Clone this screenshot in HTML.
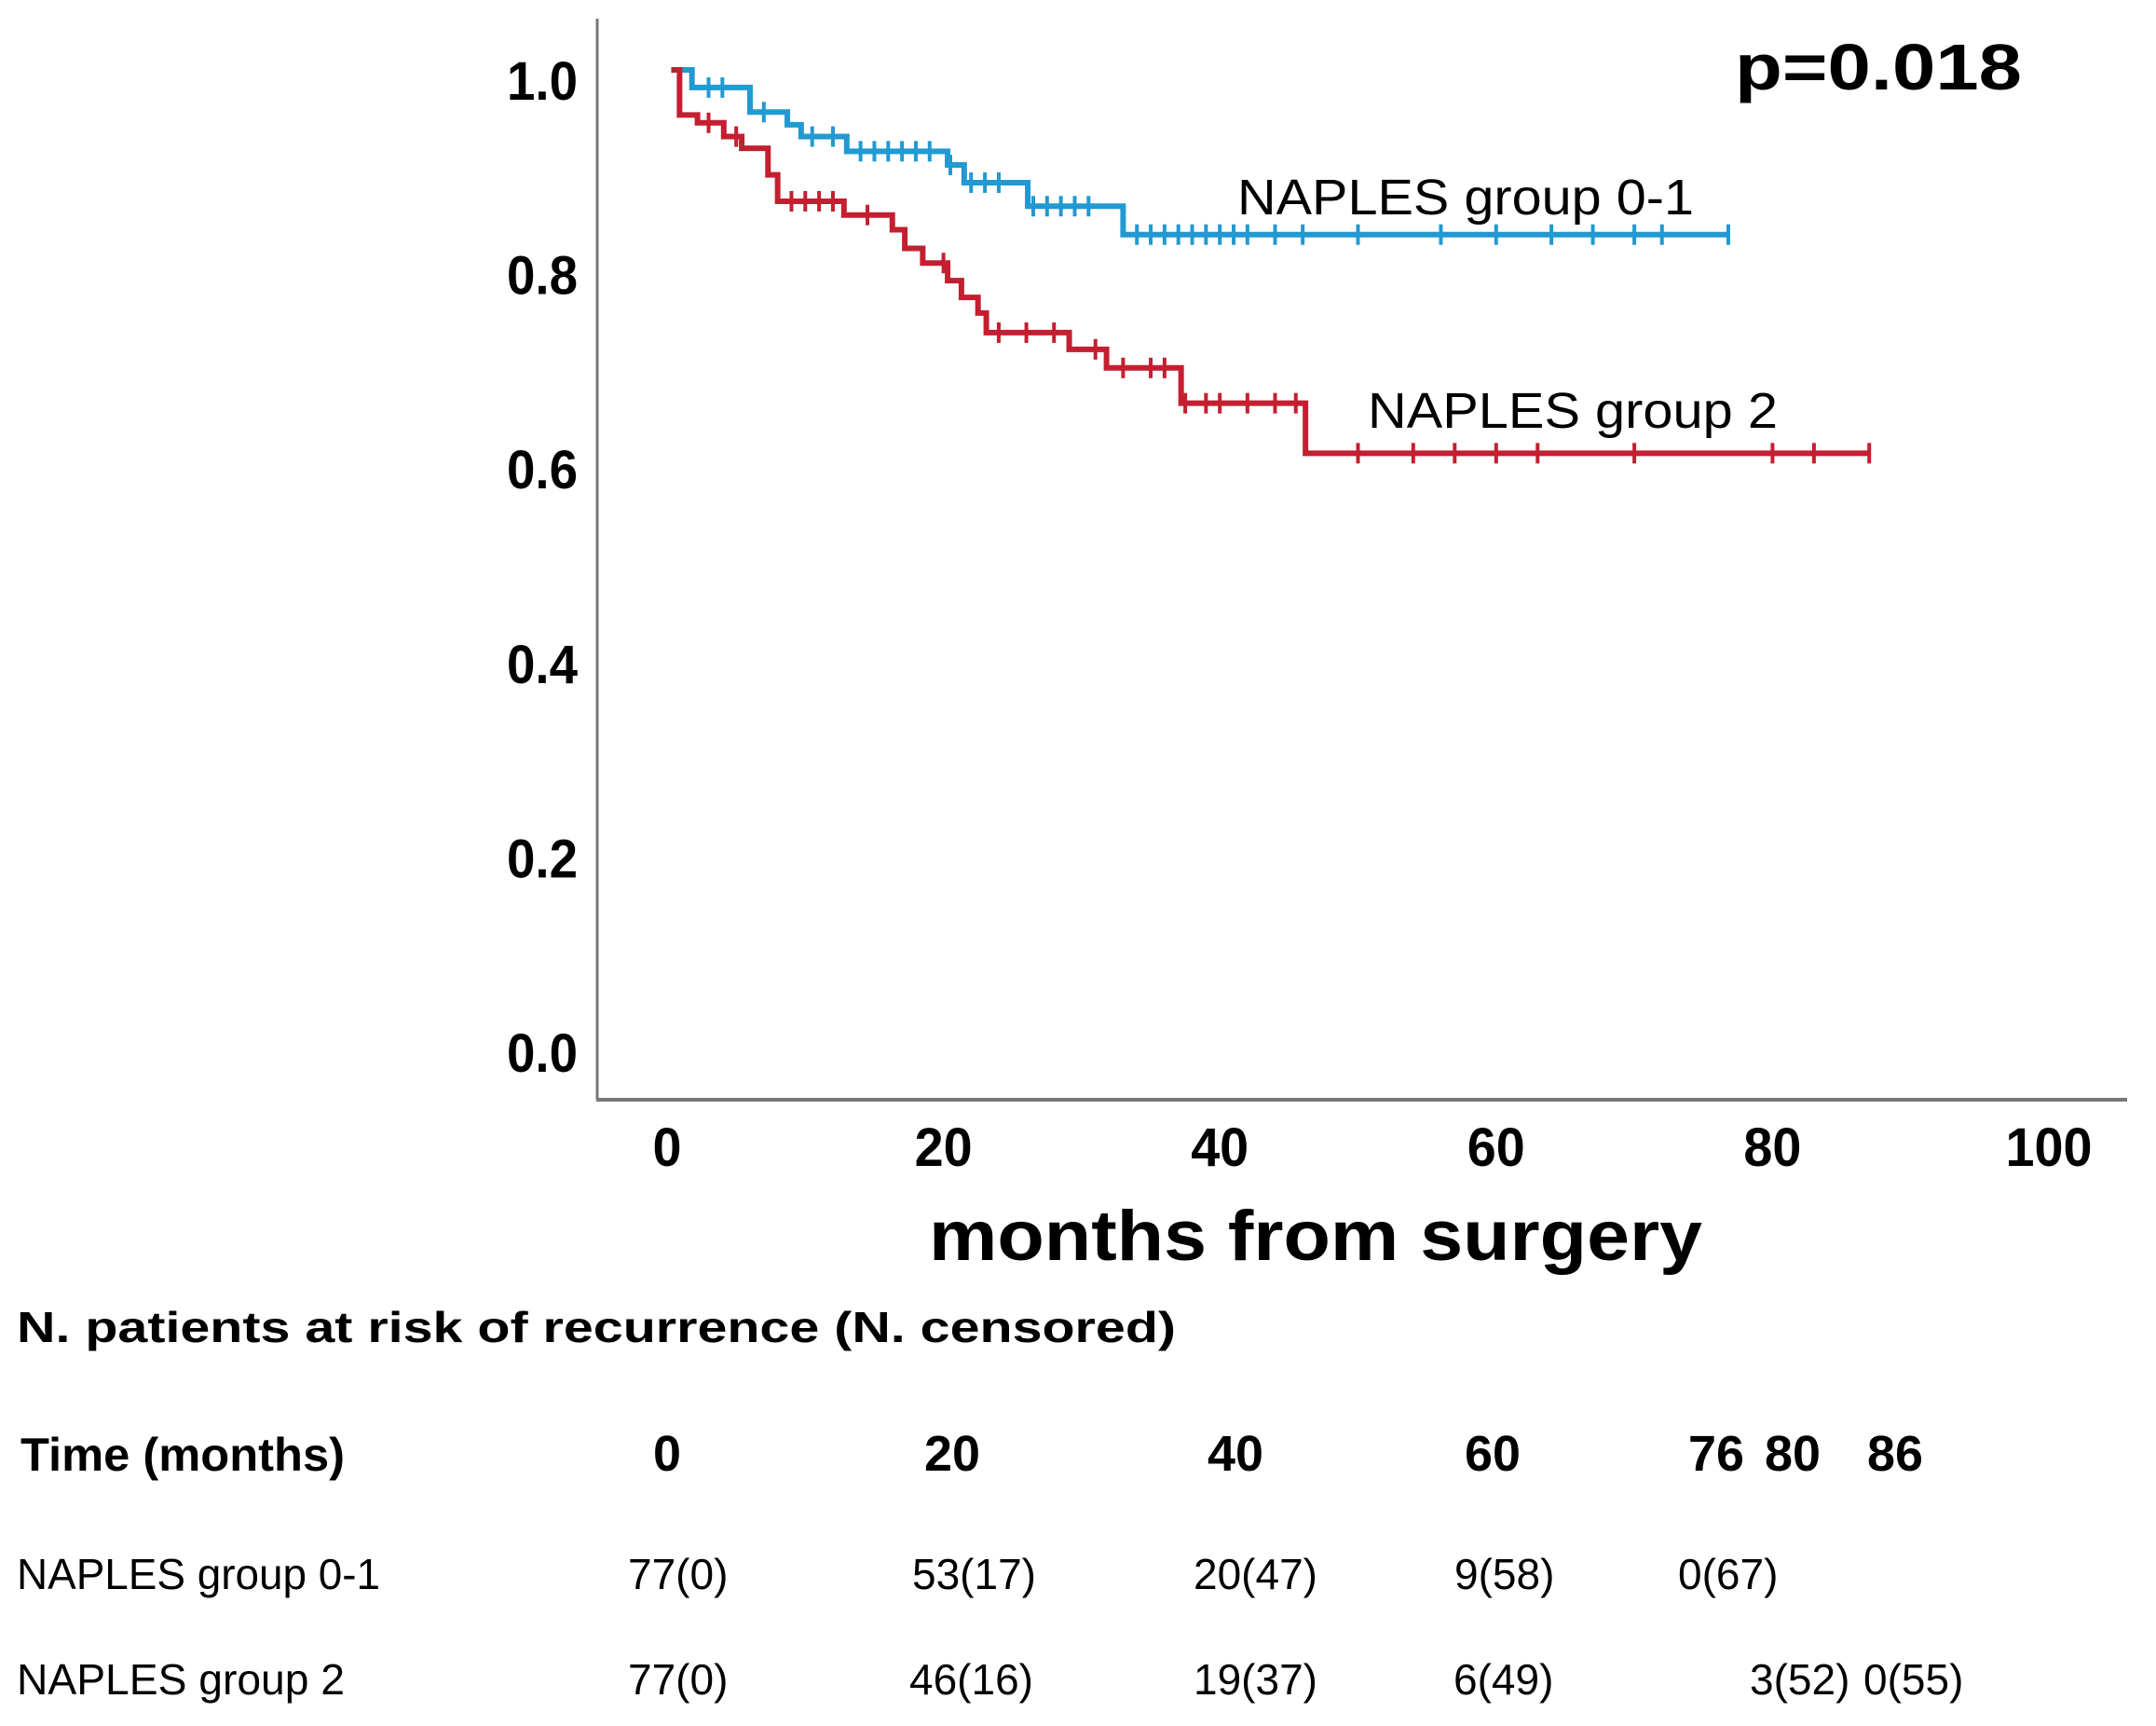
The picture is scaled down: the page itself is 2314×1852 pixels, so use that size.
<!DOCTYPE html>
<html><head><meta charset="utf-8"><style>
html,body{margin:0;padding:0;background:#fff;}
svg{display:block;font-family:"Liberation Sans",Arial,sans-serif;}
</style></head><body>
<svg id="chart" width="2314" height="1852" viewBox="0 0 2314 1852" xmlns="http://www.w3.org/2000/svg">
<rect width="2314" height="1852" fill="#fff"/>
<line x1="641" y1="20" x2="641" y2="1180" stroke="#777" stroke-width="3"/>
<line x1="640" y1="1180" x2="2283" y2="1180" stroke="#777" stroke-width="4"/>
<g id="yticks"></g>
<g id="xticks"></g>
<g id="series"></g>
<text x="1412" y="1352" text-anchor="middle" font-size="76" font-weight="bold" textLength="830" lengthAdjust="spacingAndGlyphs">months from surgery</text>
<text x="1862" y="96" font-size="70" font-weight="bold" textLength="308" lengthAdjust="spacingAndGlyphs">p=0.018</text>
<text x="1328" y="230" font-size="54" textLength="490" lengthAdjust="spacingAndGlyphs">NAPLES group 0-1</text>
<text x="1468" y="459" font-size="54" textLength="440" lengthAdjust="spacingAndGlyphs">NAPLES group 2</text>
<g>
<text x="18" y="1440" font-size="46" font-weight="bold" textLength="1244" lengthAdjust="spacingAndGlyphs">N. patients at risk of recurrence (N. censored)</text>
<text x="22" y="1578" font-size="50" font-weight="bold" textLength="348" lengthAdjust="spacingAndGlyphs">Time (months)</text>
<g id="table" font-size="46"></g>
</g>
</svg>
<script>
const yTicks=[0,0.2,0.4,0.6,0.8,1.0];
const xTicks=[0,20,40,60,80,100];
const blueTimes=[0.3,1.8,6.0,8.7,9.7,13.0,20.3,21.5,26.1,33.0,76.8];
const blueSurv=[1.0,0.982,0.957,0.944,0.932,0.917,0.903,0.885,0.861,0.832,0.832];
const blueCens=[3,4,7,10.5,12,14,15,16,17,18,19,20.5,22,23,24,26.5,27.5,28.5,29.5,30.5,34,35,36,37,38,39,40,41,42,44,46,50,56,60,64,67,70,72,76.8];
const redTimes=[0.3,0.9,2.2,4.1,5.4,7.3,8.0,12.8,16.3,17.2,18.5,20.3,21.3,22.5,23.1,29.1,31.8,37.2,46.2,87];
const redSurv=[1.0,0.954,0.946,0.932,0.920,0.893,0.866,0.852,0.837,0.818,0.803,0.785,0.768,0.752,0.732,0.715,0.696,0.660,0.609,0.609];
const redCens=[3,5,9,10,11,12,14.5,20,24,26,28,31,33,35,36,37.5,39,40,42,44,45.5,50,54,57,60,63,70,80,83,87];
const tableTimes=["0","20","40","60","76","80","86"];
const row1Label="NAPLES  group 0-1";
const row1Values=["77(0)","53(17)","20(47)","9(58)","0(67)"];
const row2Label="NAPLES  group 2";
const row2Values=["77(0)","46(16)","19(37)","6(49)","3(52)","0(55)"];

const NS="http://www.w3.org/2000/svg";
const X=t=>716+t*14.83;
const Y=v=>1127-1052*v;
const YL=v=>1129-1043*v;
function mk(tag,attrs,parent){const e=document.createElementNS(NS,tag);for(const k in attrs)e.setAttribute(k,attrs[k]);parent.appendChild(e);return e;}
const yg=document.getElementById('yticks');
yTicks.forEach(v=>{const t=mk('text',{x:620,y:YL(v)+21,'text-anchor':'end','font-size':58,'font-weight':'bold',textLength:76,lengthAdjust:'spacingAndGlyphs'},yg);


t.textContent=v.toFixed(1);});
const xg=document.getElementById('xticks');
xTicks.forEach(v=>{const s=String(v);const t=mk('text',{x:X(v),y:1251,'text-anchor':'middle','font-size':58,'font-weight':'bold',textLength:s.length*31,lengthAdjust:'spacingAndGlyphs'},xg);


t.textContent=s;});
function stepVal(times,surv,t){let v=surv[0];for(let i=0;i<times.length;i++){if(times[i]<=t)v=surv[i];}return v;}
function drawSeries(times,surv,cens,color,name){
 const g=document.getElementById('series');
 let d='M'+X(times[0])+','+Y(surv[0]);
 for(let i=1;i<times.length;i++){d+=' H'+X(times[i])+' V'+Y(surv[i]);}
 const p=mk('path',{d:d,fill:'none',stroke:color,'stroke-width':6},g);
 
 
 cens.forEach(t=>{const v=stepVal(times,surv,t);
  const l=mk('line',{x1:X(t),x2:X(t),y1:Y(v)-11,y2:Y(v)+11,stroke:color,'stroke-width':4},g);
  
  });
}
drawSeries(blueTimes,blueSurv,blueCens,'#2299d0','group-0-1');
drawSeries(redTimes,redSurv,redCens,'#c41f30','group-2');
const tg=document.getElementById('table');
const timeX=[716,1022,1326,1602,1842,1924,2034];
tableTimes.forEach((s,i)=>{const t=mk('text',{x:timeX[i],y:1578,'text-anchor':'middle','font-size':54,'font-weight':'bold',textLength:s.length*30,lengthAdjust:'spacingAndGlyphs'},tg);


t.textContent=s;});
function row(label,vals,xs,y,lw,rn){
 const l=mk('text',{x:18,y:y,textLength:lw,lengthAdjust:'spacingAndGlyphs'},tg);
 
 
 l.textContent=label;
 vals.forEach((s,i)=>{const t=mk('text',{x:xs[i],y:y},tg);
  
  
  t.textContent=s;});
}
row(row1Label,row1Values,[674,979,1281,1561,1801],1705,390,'row-group-0-1');
row(row2Label,row2Values,[674,976,1281,1560,1878,2000],1818,352,'row-group-2');
</script>
</body></html>
